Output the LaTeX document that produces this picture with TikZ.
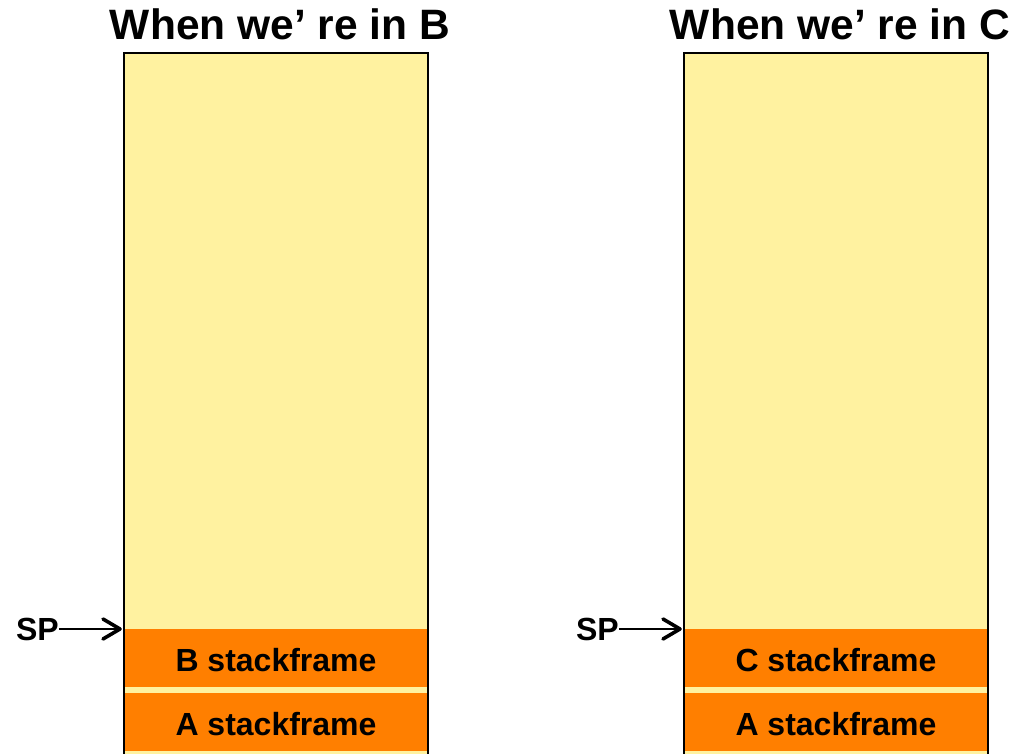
\documentclass[tikz,border=0pt]{standalone}
\usepackage{fontspec}
\setmainfont{Liberation Sans}
\usetikzlibrary{arrows.meta}
\definecolor{stackyellow}{HTML}{FFF2A0}
\definecolor{frameorange}{HTML}{FF7F00}
\begin{document}
\begin{tikzpicture}[x=1pt,y=-1pt,
  title/.style={font=\bfseries\fontsize{42.5}{48}\selectfont, inner sep=0pt, anchor=base},
  framebox/.style={fill=frameorange, draw=none, minimum width=304pt, minimum height=58pt, inner sep=0pt},
  framelabel/.style={font=\bfseries\fontsize{32}{36}\selectfont, inner sep=0pt},
  splabel/.style={font=\bfseries\fontsize{32}{36}\selectfont, inner sep=0pt, anchor=east},
  sparrow/.style={line width=2pt},
  sphead/.style={line width=3.6pt, line cap=round, line join=round},
  border/.style={line width=2pt, draw=black}]
\useasboundingbox (0,0) rectangle (1013,754);
\begin{scope}
\clip (0,0) rectangle (1013,754);
% left column
\fill[stackyellow] (124,53) rectangle (428,770);
\node[framebox] (bframe) at (276,658) {};
\node[framebox] (aframeL) at (276,722) {};
\node[framelabel] at (276,660) {B stackframe};
\node[framelabel] at (276,724) {A stackframe};
\draw[border] (124,770) -- (124,53) -- (428,53) -- (428,770);
% right column
\fill[stackyellow] (684,53) rectangle (988,770);
\node[framebox] (cframe) at (836,658) {};
\node[framebox] (aframeR) at (836,722) {};
\node[framelabel] at (836,660) {C stackframe};
\node[framelabel] at (836,724) {A stackframe};
\draw[border] (684,770) -- (684,53) -- (988,53) -- (988,770);
\end{scope}
\node[title] (titleB) at (280,40) {When we’ re in B};
\node[title] (titleC) at (840,40) {When we’ re in C};
\coordinate (spL) at (120,629);
\coordinate (spR) at (680,629);
\node[splabel] (spBl) at (59,629) {SP};
\node[splabel] (spCl) at (619,629) {SP};
\draw[sparrow] (spBl.east) -- (spL);
\draw[sparrow] (spCl.east) -- (spR);
\draw[sphead] ([shift={(-17,-10)}]spL) -- (spL) -- ([shift={(-17,10)}]spL);
\draw[sphead] ([shift={(-17,-10)}]spR) -- (spR) -- ([shift={(-17,10)}]spR);
\end{tikzpicture}
\end{document}
